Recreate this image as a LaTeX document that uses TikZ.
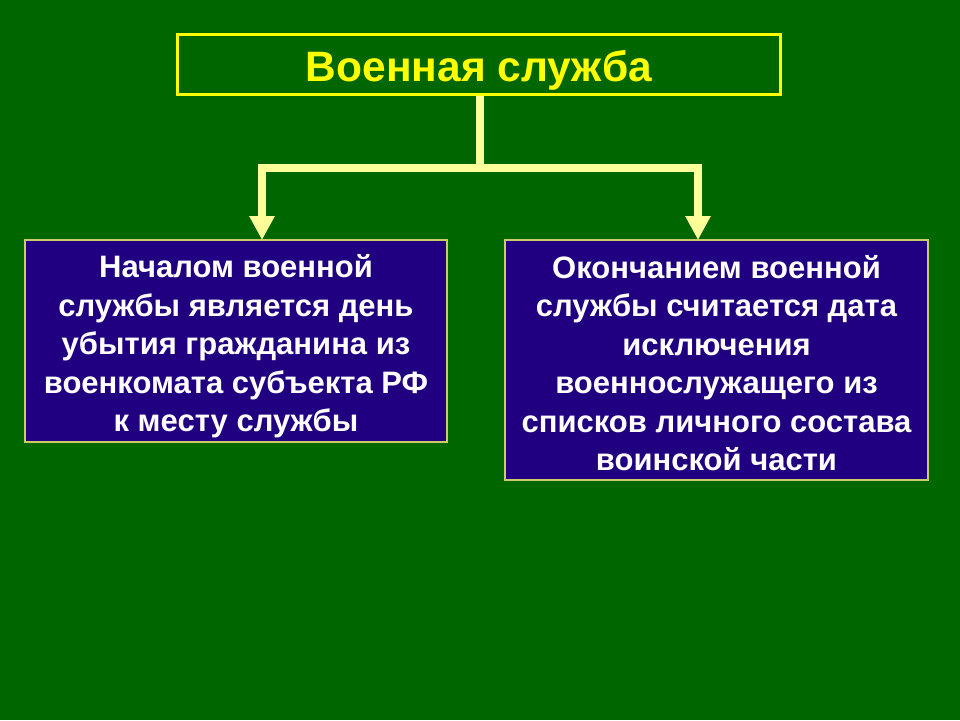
\documentclass[tikz,border=0pt]{standalone}
\usepackage{fontspec}
\setmainfont{Liberation Sans}
\usetikzlibrary{arrows.meta}
\definecolor{bggreen}{HTML}{006600}
\definecolor{titleyellow}{HTML}{FFFF00}
\definecolor{paleyellow}{HTML}{FFFF99}
\definecolor{boxblue}{HTML}{200080}
\definecolor{boxedge}{HTML}{CCCC66}
\tikzset{
  titlebox/.style={draw=titleyellow, line width=3.5pt, fill=bggreen, minimum width=603pt, minimum height=60pt, inner sep=0pt, text=titleyellow, text height=34pt, text depth=0pt, font=\bfseries\fontsize{42.5}{48}\selectfont},
  infobox/.style={draw=boxedge, line width=1.5pt, fill=boxblue, inner sep=0pt},
  infotext/.style={text=white, align=center, inner sep=0pt, font=\bfseries\fontsize{31}{38.5}\selectfont}
  ,conn/.style={draw=paleyellow, line width=8pt, line join=miter},
  arr/.style={conn, -{Triangle[width=24pt,length=24pt]}}
}
\begin{document}
\begin{tikzpicture}[x=1pt,y=-1pt]
\fill[bggreen] (0,0) rectangle (960,720);
\useasboundingbox (0,0) rectangle (960,720);
\node[titlebox] (title) at (479,64.5) {Военная служба};
\node[infobox, minimum width=422pt, minimum height=202pt] (left) at (236,341) {};
\node[infotext] (lefttext) at ([yshift=-5.5pt]left.center)
  {Началом военной\\службы является день\\убытия гражданина из\\военкомата субъекта РФ\\к месту службы};
\node[infobox, minimum width=423pt, minimum height=240pt] (right) at (716.5,360) {};
\node[infotext] (righttext) at ([yshift=-3pt]right.center)
  {Окончанием военной\\службы считается дата\\исключения\\военнослужащего из\\списков личного состава\\воинской части};
\coordinate (j) at (480,168);
\coordinate (lt) at (262,240);
\coordinate (rt) at (698,240);
\draw[conn] (title.south -| j) -- (j);
\draw[conn] ([xshift=-4pt]lt |- j) -- ([xshift=4pt]rt |- j);
\draw[arr] ([yshift=-4pt]lt |- j) -- (lt);
\draw[arr] ([yshift=-4pt]rt |- j) -- (rt);
\end{tikzpicture}
\end{document}
